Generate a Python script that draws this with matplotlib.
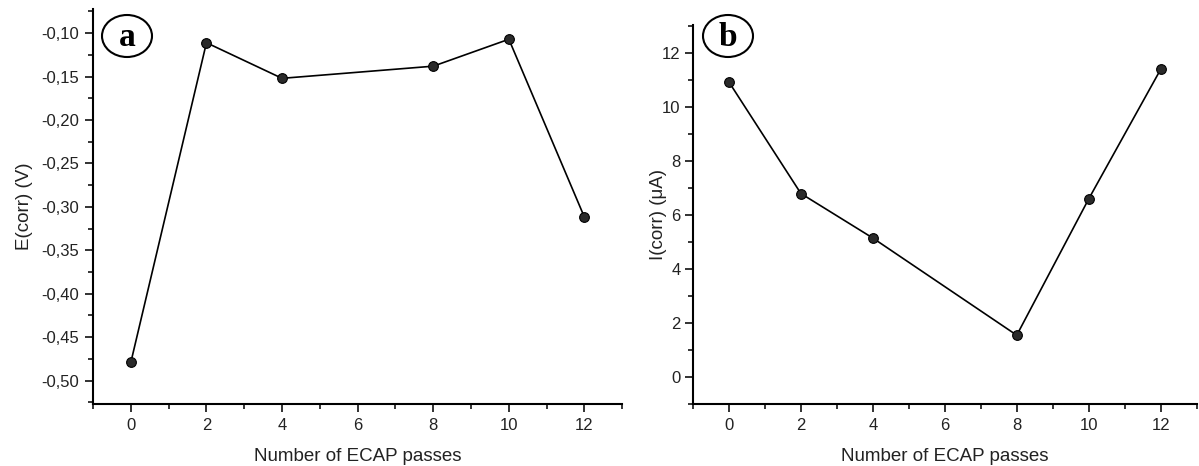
import matplotlib
matplotlib.use("Agg")
import matplotlib.pyplot as plt
from matplotlib.patches import Ellipse
from matplotlib.ticker import MultipleLocator, FuncFormatter

# data
passes = [0, 2, 4, 8, 10, 12]
e_corr = [-0.479, -0.111, -0.152, -0.138, -0.107, -0.312]
i_corr = [10.93, 6.8, 5.15, 1.55, 6.6, 11.4]

x_label = "Number of ECAP passes"
e_label = "E(corr) (V)"
i_label = "I(corr) (\u03bcA)"

plt.rcParams["font.family"] = ["Liberation Sans", "DejaVu Sans"]

fig = plt.figure(figsize=(11.99, 4.66), dpi=100)
ax_a = fig.add_axes([0.0776, 0.133, 0.4414, 0.848])
ax_b = fig.add_axes([0.578, 0.133, 0.420, 0.813])


def style_axis(ax):
    for side in ["top", "right"]:
        ax.spines[side].set_visible(False)
    for side in ["left", "bottom"]:
        ax.spines[side].set_linewidth(1.5)
    ax.tick_params(which="major", direction="out", length=6, width=1.3,
                   labelsize=12, pad=4, colors="#222222")
    ax.tick_params(which="minor", direction="out", length=3.5, width=1.1)
    ax.xaxis.set_major_locator(MultipleLocator(2))
    ax.xaxis.set_minor_locator(MultipleLocator(1))
    ax.set_xlim(-1, 13)
    ax.set_xlabel(x_label, fontsize=13.5, labelpad=11, color="#222222")


def draw_series(ax, y):
    ax.plot(passes, y, color="black", linewidth=1.2, zorder=2)
    ax.plot(passes, y, linestyle="none", marker="o", markersize=7,
            markerfacecolor="#2a2a2a", markeredgecolor="black",
            markeredgewidth=0.8, zorder=3)


# panel a
style_axis(ax_a)
draw_series(ax_a, e_corr)
ax_a.set_ylim(-0.527, -0.072)
ax_a.yaxis.set_major_locator(MultipleLocator(0.05))
ax_a.yaxis.set_minor_locator(MultipleLocator(0.025))
ax_a.yaxis.set_major_formatter(
    FuncFormatter(lambda v, p: f"{v:.2f}".replace(".", ",")))
ax_a.set_ylabel(e_label, fontsize=13.5, labelpad=6, color="#222222")

# panel b
style_axis(ax_b)
draw_series(ax_b, i_corr)
ax_b.set_ylim(-1.0, 13.04)
ax_b.yaxis.set_major_locator(MultipleLocator(2))
ax_b.yaxis.set_minor_locator(MultipleLocator(1))
ax_b.tick_params(axis="y", which="major", pad=3)
ax_b.set_ylabel(i_label, fontsize=13.5, labelpad=-4, color="#222222")

# circled panel letters
for letter, cx in [("a", 127), ("b", 728)]:
    fx, fy = cx / 1199, 1 - 36 / 466
    fig.add_artist(Ellipse((fx, fy), 50 / 1199, 42 / 466,
                           transform=fig.transFigure, facecolor="white",
                           edgecolor="black", linewidth=1.5))
    fig.text(fx, fy - 0.004, letter, ha="center", va="center",
             fontsize=24, fontweight="bold", family="Liberation Serif")

fig.savefig("out.png", dpi=100)
